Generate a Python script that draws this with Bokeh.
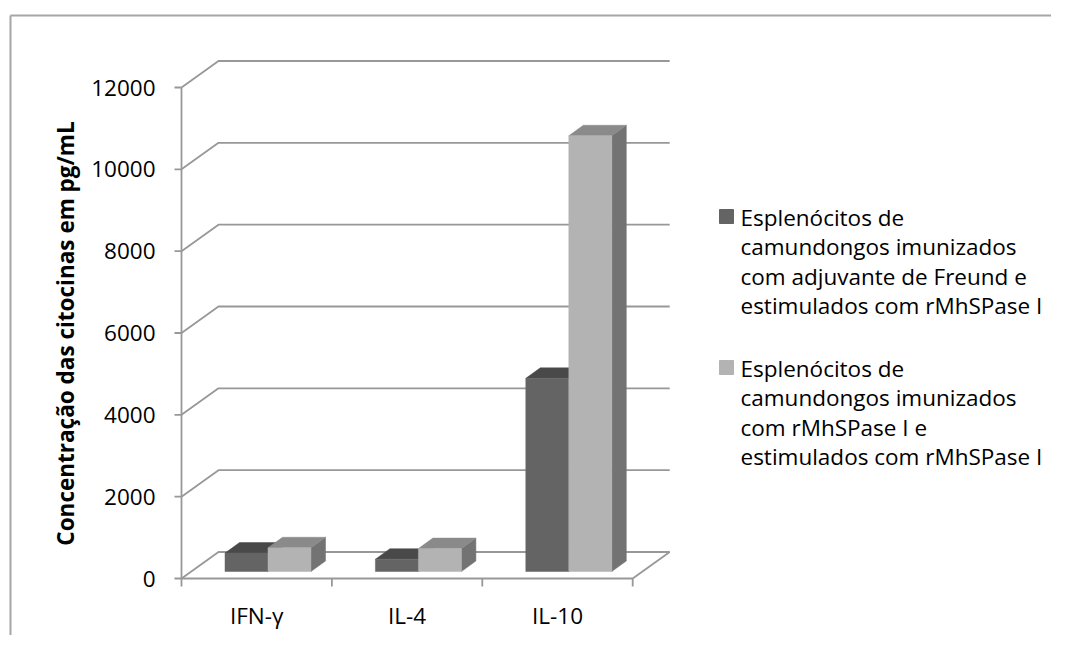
from bokeh.plotting import figure
from bokeh.embed import file_html
from bokeh.resources import INLINE
from bokeh.core.properties import value
import math

# ---- data ----
categories = ["IFN-γ", "IL-4", "IL-10"]
freund = [450, 300, 4720]        # dark series
rmh = [580, 560, 10650]          # light series
y_ticks = [0, 2000, 4000, 6000, 8000, 10000, 12000]
series_labels = [
    ["Esplenócitos de", "camundongos imunizados", "com adjuvante de Freund e", "estimulados com rMhSPase I"],
    ["Esplenócitos de", "camundongos imunizados", "com rMhSPase I e", "estimulados com rMhSPase I"],
]
y_title = "Concentração das citocinas em pg/mL"

# ---- layout constants (picture pixel geometry -> data units) ----
W, H = 1051, 635
OFF = 0
PX_CAT = 150.4
PX_UNIT = 491 / 12000
X0P, Y0P = 181, 578
def cx(px):
    return (px - X0P) / PX_CAT
def vy(py):
    return (Y0P - py) / PX_UNIT

p = figure(width=W, height=H, output_backend="svg", toolbar_location=None,
           x_range=(cx(OFF), cx(OFF + W)), y_range=(vy(OFF + H), vy(OFF)),
           x_axis_location=None, y_axis_location=None, min_border=0,
           tools="")
p.outline_line_color = None
p.grid.visible = False
p.background_fill_color = "white"
p.border_fill_color = "white"

LINE = "#989898"
LW = 1.8
FONT = value("Open Sans")
FS = "22.5px"

# outer chart border (top and left)
p.line([cx(10), cx(1100)], [vy(15), vy(15)], line_color="#a6a6a6", line_width=2)
p.line([cx(10), cx(10)], [vy(15), vy(700)], line_color="#a6a6a6", line_width=2)

# back wall / side wall gridlines
WDX = 37 / PX_CAT
WDY = 26.5 / PX_UNIT
ncat = len(categories)
for t in y_ticks:
    p.line([0, WDX, ncat + WDX], [t, t + WDY, t + WDY], line_color=LINE, line_width=LW)

# floor
p.line([0, ncat, ncat + WDX], [0, 0, WDY], line_color=LINE, line_width=LW)
# value axis line
p.line([0, 0], [0, y_ticks[-1]], line_color=LINE, line_width=LW)
# value ticks
tick_len = 7 / PX_CAT
p.segment(x0=[-tick_len] * len(y_ticks), y0=y_ticks, x1=[0] * len(y_ticks), y1=y_ticks,
          line_color=LINE, line_width=LW)
# category ticks (boundaries)
p.segment(x0=list(range(ncat + 1)), y0=[0] * (ncat + 1), x1=list(range(ncat + 1)),
          y1=[-8 / PX_UNIT] * (ncat + 1), line_color=LINE, line_width=LW)

# tick labels
p.text(x=[cx(155)] * len(y_ticks), y=y_ticks, text=[str(t) for t in y_ticks],
       text_align="right", text_baseline="middle", text_font=FONT,
       text_font_size=FS, text_color="#000000")
p.text(x=[i + 0.5 for i in range(ncat)], y=[vy(615)] * ncat, text=categories,
       text_align="center", text_baseline="middle", text_font=FONT,
       text_font_size=FS, text_color="#000000")
# axis title
p.text(x=[cx(65)], y=[vy(333)], text=[y_title], angle=math.pi / 2,
       text_align="center", text_baseline="middle", text_font=FONT,
       text_font_style="bold", text_font_size="22.5px", text_color="#000000")

# 3D bars
BAR_OFF = 43.5 / PX_CAT
BAR_W = 43 / PX_CAT
BASE = vy(571)
DX = 14.5 / PX_CAT
DY = 10.5 / PX_UNIT

def faces(vals, s):
    front_x, front_y, top_x, top_y, side_x, side_y = [], [], [], [], [], []
    for i, v in enumerate(vals):
        x0 = i + BAR_OFF + s * BAR_W
        x1 = x0 + BAR_W
        y0 = BASE
        y1 = BASE + v
        front_x.append([x0, x1, x1, x0]); front_y.append([y0, y0, y1, y1])
        top_x.append([x0, x1, x1 + DX, x0 + DX]); top_y.append([y1, y1, y1 + DY, y1 + DY])
        side_x.append([x1, x1 + DX, x1 + DX, x1]); side_y.append([y0, y0 + DY, y1 + DY, y1])
    return front_x, front_y, top_x, top_y, side_x, side_y

colors = [("#646464", "#494949", "#3f3f3f"), ("#b3b3b3", "#8a8a8a", "#737373")]
for s, vals in enumerate([freund, rmh]):
    fx, fy, tx, ty, sx, sy = faces(vals, s)
    cf, ct, cs = colors[s]
    p.patches(sx, sy, fill_color=cs, line_color=cs, line_width=0.5)
    p.patches(tx, ty, fill_color=ct, line_color=ct, line_width=0.5)
    p.patches(fx, fy, fill_color=cf, line_color=cf, line_width=0.5)

# legend
sq_tops = [209, 360]
for s, lines in enumerate(series_labels):
    top = sq_tops[s]
    p.quad(left=[cx(719)], right=[cx(733)], top=[vy(top)], bottom=[vy(top + 14)],
           fill_color=colors[s][0], line_color=colors[s][0])
    for k, ln in enumerate(lines):
        p.text(x=[cx(740)], y=[vy(top + 7.5 + k * 29.5)], text=[ln], text_align="left",
               text_baseline="middle", text_font=FONT, text_font_size=FS,
               text_color="#000000")

open("out.html", "w").write(file_html(p, INLINE))
